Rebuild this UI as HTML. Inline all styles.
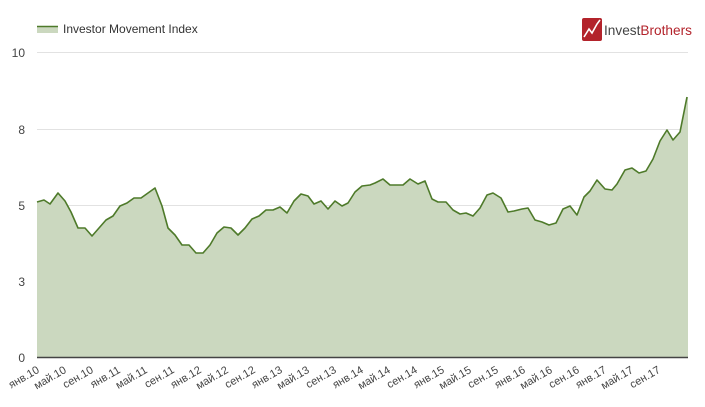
<!DOCTYPE html>
<html><head><meta charset="utf-8"><style>
body{margin:0;background:#fff;font-family:"Liberation Sans",sans-serif;}
svg text{font-family:"Liberation Sans",sans-serif;}
</style></head><body>
<svg width="705" height="402" xmlns="http://www.w3.org/2000/svg">
<rect width="705" height="402" fill="#fff"/>
<g stroke="#e2e2e2" stroke-width="1">
<line x1="37" x2="688" y1="52.5" y2="52.5"/>
<line x1="37" x2="688" y1="129.5" y2="129.5"/>
<line x1="37" x2="688" y1="205.5" y2="205.5"/>
<line x1="37" x2="688" y1="281.5" y2="281.5"/>
</g>
<g font-size="12" fill="#444" text-anchor="end">
<text x="25" y="57">10</text><text x="25" y="134">8</text><text x="25" y="210">5</text><text x="25" y="286">3</text><text x="25" y="362">0</text>
</g>
<polygon fill="#cbd8bf" points="37,357 37,202 44,200 50,204 58,193 65,201 71,212 78,228 85,228 92,236 99,228 106,220 113,216 120,206 127,203 134,198 141,198 148,193 155,188 162,206 168,228 175,235 182,245 189,245 196,253 203,253 210,245 217,233 224,227 231,228 238,235 245,228 252,219 259,216 266,210 273,210 280,207 287,213 294,201 301,194 308,196 314,204 321,201 328,209 335,201 342,206 348,203 355,192 362,186 370,185 375,183 383,179 390,185 403,185 410,179 418,184 425,181 432,199 438,202 446,202 453,210 460,214 466,213 473,216 480,208 487,195 493,193 501,198 508,212 514,211 522,209 528,208 535,220 542,222 549,225 556,223 563,209 570,206 577,215 584,197 590,191 597,180 605,189 612,190 617,184 625,170 632,168 639,173 646,171 653,159 660,141 667,130 673,140 680,132 687,97 688,97 688,357"/>
<polyline fill="none" stroke="#4e7a2a" stroke-width="1.6" stroke-linejoin="round" points="37,202 44,200 50,204 58,193 65,201 71,212 78,228 85,228 92,236 99,228 106,220 113,216 120,206 127,203 134,198 141,198 148,193 155,188 162,206 168,228 175,235 182,245 189,245 196,253 203,253 210,245 217,233 224,227 231,228 238,235 245,228 252,219 259,216 266,210 273,210 280,207 287,213 294,201 301,194 308,196 314,204 321,201 328,209 335,201 342,206 348,203 355,192 362,186 370,185 375,183 383,179 390,185 403,185 410,179 418,184 425,181 432,199 438,202 446,202 453,210 460,214 466,213 473,216 480,208 487,195 493,193 501,198 508,212 514,211 522,209 528,208 535,220 542,222 549,225 556,223 563,209 570,206 577,215 584,197 590,191 597,180 605,189 612,190 617,184 625,170 632,168 639,173 646,171 653,159 660,141 667,130 673,140 680,132 687,97"/>
<line x1="37" x2="688" y1="357.5" y2="357.5" stroke="#444" stroke-width="1.5"/>
<g font-size="11" fill="#444" text-anchor="end">
<text transform="translate(40,372) rotate(-30)">янв.10</text>
<text transform="translate(67,372) rotate(-30)">май.10</text>
<text transform="translate(94,372) rotate(-30)">сен.10</text>
<text transform="translate(121,372) rotate(-30)">янв.11</text>
<text transform="translate(148,372) rotate(-30)">май.11</text>
<text transform="translate(175,372) rotate(-30)">сен.11</text>
<text transform="translate(202,372) rotate(-30)">янв.12</text>
<text transform="translate(229,372) rotate(-30)">май.12</text>
<text transform="translate(256,372) rotate(-30)">сен.12</text>
<text transform="translate(283,372) rotate(-30)">янв.13</text>
<text transform="translate(310,372) rotate(-30)">май.13</text>
<text transform="translate(337,372) rotate(-30)">сен.13</text>
<text transform="translate(364,372) rotate(-30)">янв.14</text>
<text transform="translate(391,372) rotate(-30)">май.14</text>
<text transform="translate(418,372) rotate(-30)">сен.14</text>
<text transform="translate(445,372) rotate(-30)">янв.15</text>
<text transform="translate(472,372) rotate(-30)">май.15</text>
<text transform="translate(499,372) rotate(-30)">сен.15</text>
<text transform="translate(526,372) rotate(-30)">янв.16</text>
<text transform="translate(553,372) rotate(-30)">май.16</text>
<text transform="translate(580,372) rotate(-30)">сен.16</text>
<text transform="translate(607,372) rotate(-30)">янв.17</text>
<text transform="translate(634,372) rotate(-30)">май.17</text>
<text transform="translate(661,372) rotate(-30)">сен.17</text>
</g>
<rect x="37" y="26" width="21" height="7" fill="#cbd8bf"/>
<line x1="37" x2="58" y1="26.5" y2="26.5" stroke="#4e7a2a" stroke-width="1.5"/>
<text x="63" y="33" font-size="12" fill="#333">Investor Movement Index</text>
<rect x="582" y="18" width="20" height="23" rx="2" fill="#b3232b"/>
<polyline points="584,37 589,29 592,33 597,24 600,20" fill="none" stroke="#fff" stroke-width="1.6"/>
<text x="604" y="35" font-size="14" fill="#444" textLength="88" lengthAdjust="spacingAndGlyphs">Invest<tspan fill="#b3232b">Brothers</tspan></text>
</svg>
</body></html>
